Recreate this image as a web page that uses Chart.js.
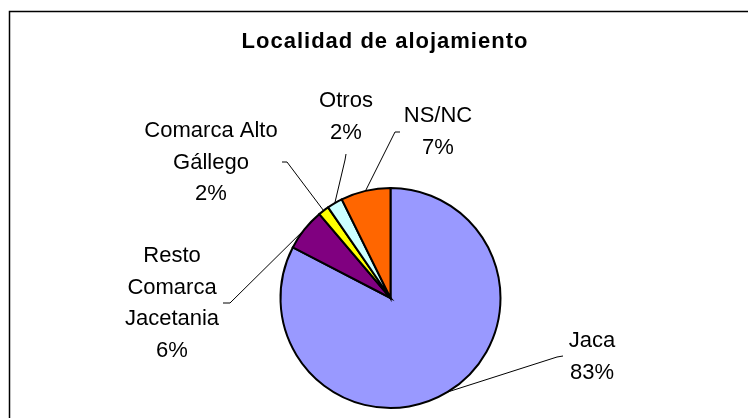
<!DOCTYPE html>
<html>
<head>
<meta charset="utf-8">
<script src="https://cdn.jsdelivr.net/npm/chart.js@4/dist/chart.umd.min.js"></script>
<style>
  html, body { margin: 0; padding: 0; background: #fff; }
  #wrap { width: 748px; height: 418px; }
</style>
</head>
<body>
<div id="wrap"><canvas id="pieChart" width="748" height="418"></canvas></div>
<script>
// Data
const categories = [['Jaca'], ['Resto', 'Comarca', 'Jacetania'], ['Comarca Alto', 'Gállego'], ['Otros'], ['NS/NC']];
const shares = [82.6, 6.2, 1.6, 2.3, 7.3];
const sliceColors = ['#9999FF', '#800080', '#FFFF00', '#CCFFFF', '#FF6600'];
const chartTitle = 'Localidad de alojamiento';

// Where each label sits (text centre, first baseline) and the leader elbow / tail
const labelLayout = [
  { x: 592, y: 347, elbow: [557, 357], tail: [563, 356] },
  { x: 172, y: 262, elbow: [230, 303], tail: [223, 303] },
  { x: 211, y: 137, elbow: [287, 162], tail: [282, 162] },
  { x: 346, y: 107, elbow: [345, 160], tail: [346, 154] },
  { x: 438, y: 122, elbow: [395, 132], tail: [400, 132] }
];

const FONT = '"Liberation Sans", Arial, sans-serif';

const decorPlugin = {
  id: 'decor',
  afterDraw(chart) {
    const ctx = chart.ctx;
    ctx.save();

    // frame (runs off the right and bottom edges like the original)
    ctx.strokeStyle = '#000';
    ctx.lineWidth = 1.5;
    ctx.strokeRect(9.5, 11.5, 800, 500);

    // title
    ctx.fillStyle = '#000';
    ctx.font = 'bold 22px ' + FONT;
    ctx.textAlign = 'center';
    ctx.textBaseline = 'alphabetic';
    if ('letterSpacing' in ctx) ctx.letterSpacing = '1px';
    ctx.fillText(chartTitle, 385, 48);
    if ('letterSpacing' in ctx) ctx.letterSpacing = '0px';

    // labels + leader lines
    const meta = chart.getDatasetMeta(0);
    const values = chart.data.datasets[0].data;
    const total = values.reduce((a, b) => a + b, 0);
    ctx.font = '22px ' + FONT;
    meta.data.forEach((arc, i) => {
      const p = arc.getProps(['x', 'y', 'startAngle', 'endAngle', 'outerRadius'], true);
      const mid = (p.startAngle + p.endAngle) / 2;
      const rx = p.x + Math.cos(mid) * p.outerRadius;
      const ry = p.y + Math.sin(mid) * p.outerRadius;
      const lay = labelLayout[i];

      ctx.strokeStyle = '#000';
      ctx.lineWidth = 1;
      ctx.beginPath();
      ctx.moveTo(rx, ry);
      ctx.lineTo(lay.elbow[0], lay.elbow[1]);
      ctx.lineTo(lay.tail[0], lay.tail[1]);
      ctx.stroke();

      const lines = chart.data.labels[i].concat([Math.round(values[i] / total * 100) + '%']);
      lines.forEach((t, k) => {
        ctx.fillText(t, lay.x, lay.y + k * 31.5);
      });
    });
    ctx.restore();
  }
};

document.addEventListener('DOMContentLoaded', () => {
  const el = document.getElementById('pieChart');
  new Chart(el.getContext('2d'), {
    type: 'pie',
    data: {
      labels: categories,
      datasets: [{
        data: shares,
        backgroundColor: sliceColors,
        borderColor: '#000',
        borderWidth: 2,
        borderJoinStyle: 'miter'
      }]
    },
    options: {
      responsive: false,
      animation: false,
      rotation: 0,
      layout: { padding: { left: 279.5, right: 246.5, top: 187, bottom: 9 } },
      plugins: {
        legend: { display: false },
        tooltip: { enabled: false },
        title: { display: false }
      }
    },
    plugins: [decorPlugin]
  });
});
</script>
</body>
</html>
